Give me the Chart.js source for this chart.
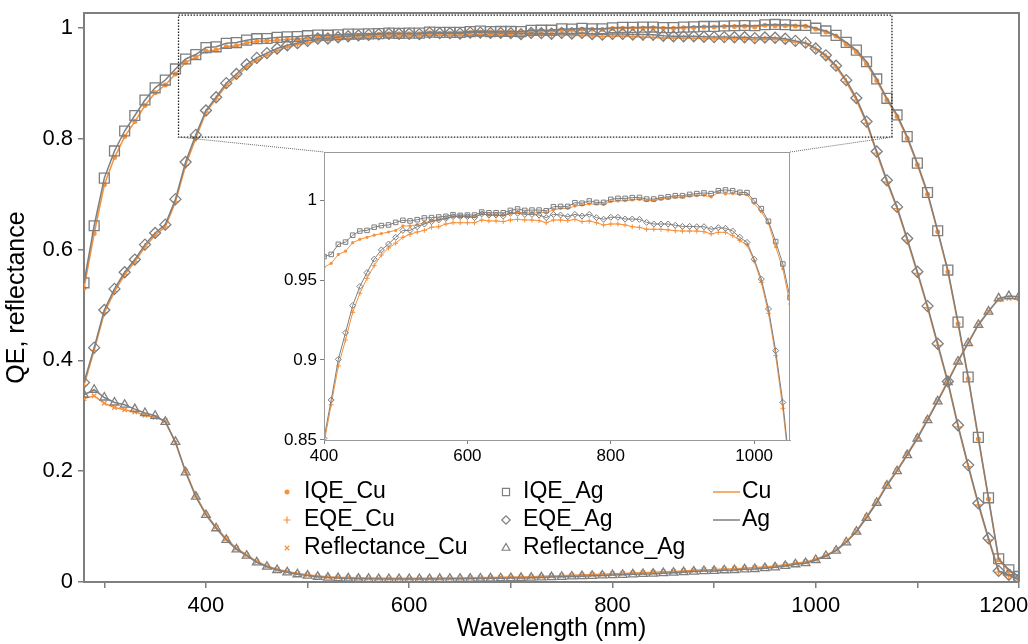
<!DOCTYPE html>
<html>
<head>
<meta charset="utf-8">
<title>QE and reflectance, Cu vs Ag</title>
<script src="https://cdn.jsdelivr.net/npm/chart.js@4.4.1/dist/chart.umd.min.js"></script>
<style>
  body { margin: 0; background: #fff; }
  #wrap { position: relative; width: 1028px; height: 644px; }
  #main { position: absolute; left: 0; top: 0; }
  #inset { position: absolute; left: 270px; top: 140px; }
</style>
</head>
<body>
<div id="wrap">
  <canvas id="main" width="1028" height="644"></canvas>
  <canvas id="inset" width="530" height="330"></canvas>
</div>
<script>
const ORANGE = '#f7913a';
const GREY = '#7f7f7f';

const wavelength = [
  280, 290, 300, 310, 320, 330, 340, 350, 360, 370,
  380, 390, 400, 410, 420, 430, 440, 450, 460, 470,
  480, 490, 500, 510, 520, 530, 540, 550, 560, 570,
  580, 590, 600, 610, 620, 630, 640, 650, 660, 670,
  680, 690, 700, 710, 720, 730, 740, 750, 760, 770,
  780, 790, 800, 810, 820, 830, 840, 850, 860, 870,
  880, 890, 900, 910, 920, 930, 940, 950, 960, 970,
  980, 990, 1000, 1010, 1020, 1030, 1040, 1050, 1060, 1070,
  1080, 1090, 1100, 1110, 1120, 1130, 1140, 1150, 1160, 1170,
  1180, 1190, 1200
];

const iqeCu = [
  0.530, 0.629, 0.717, 0.766, 0.804, 0.831, 0.860, 0.883, 0.897, 0.917,
  0.938, 0.947, 0.9580, 0.9604, 0.9660, 0.9680, 0.9733, 0.9754, 0.9767, 0.9780,
  0.9790, 0.9800, 0.9810, 0.9838, 0.9838, 0.9846, 0.9858, 0.9869, 0.9875, 0.9885,
  0.9896, 0.9896, 0.9896, 0.9896, 0.9913, 0.9906, 0.9906, 0.9906, 0.9917, 0.9923,
  0.9921, 0.9917, 0.9921, 0.9921, 0.9938, 0.9948, 0.9948, 0.9962, 0.9969, 0.9975,
  0.9975, 0.9973, 0.9990, 0.9994, 0.9996, 1.0000, 1.0004, 0.9996, 0.9996, 1.0006,
  1.0010, 1.0017, 1.0017, 1.0025, 1.0027, 1.0029, 1.0019, 1.0048, 1.0038, 1.0040,
  1.0035, 1.0033, 0.9979, 0.9927, 0.9854, 0.9708, 0.9570, 0.9350, 0.905, 0.870,
  0.840, 0.801, 0.753, 0.700, 0.632, 0.560, 0.466, 0.367, 0.258, 0.150,
  0.040, 0.020, 0.009
];
const eqeCu = [
  0.355, 0.418, 0.486, 0.524, 0.555, 0.578, 0.605, 0.626, 0.641, 0.686,
  0.752, 0.801, 0.8480, 0.8720, 0.8963, 0.9125, 0.9298, 0.9417, 0.9510, 0.9590,
  0.9656, 0.9700, 0.9730, 0.9767, 0.9785, 0.9800, 0.9810, 0.9830, 0.9833, 0.9850,
  0.9858, 0.9858, 0.9858, 0.9858, 0.9875, 0.9869, 0.9869, 0.9865, 0.9875, 0.9879,
  0.9875, 0.9875, 0.9871, 0.9858, 0.9875, 0.9875, 0.9871, 0.9879, 0.9865, 0.9869,
  0.9858, 0.9844, 0.9850, 0.9850, 0.9844, 0.9833, 0.9829, 0.9817, 0.9817, 0.9817,
  0.9813, 0.9808, 0.9806, 0.9806, 0.9806, 0.9802, 0.9788, 0.9798, 0.9798, 0.9777,
  0.9746, 0.9720, 0.9619, 0.9485, 0.9292, 0.9027, 0.8698, 0.828, 0.774, 0.722,
  0.674, 0.617, 0.557, 0.495, 0.427, 0.359, 0.280, 0.208, 0.139, 0.076,
  0.018, 0.011, 0.004
];
const reflCu = [
  0.331, 0.336, 0.3225, 0.315, 0.311, 0.307, 0.301, 0.297, 0.291, 0.251,
  0.200, 0.156, 0.123, 0.099, 0.078, 0.061, 0.049, 0.037, 0.029, 0.023,
  0.019, 0.0155, 0.013, 0.011, 0.0095, 0.0085, 0.008, 0.0075, 0.0072, 0.007,
  0.0068, 0.0068, 0.0068, 0.0068, 0.0069, 0.0070, 0.0072, 0.0074, 0.0076, 0.0079,
  0.0082, 0.0085, 0.0088, 0.0092, 0.0097, 0.0102, 0.0108, 0.0114, 0.0120, 0.0127,
  0.0134, 0.0140, 0.0147, 0.0154, 0.0161, 0.0168, 0.0175, 0.0183, 0.0191, 0.0200,
  0.0210, 0.0220, 0.0225, 0.0235, 0.0240, 0.0250, 0.0260, 0.0272, 0.0288, 0.0310,
  0.0340, 0.0360, 0.0410, 0.0480, 0.0580, 0.0730, 0.0920, 0.118, 0.145, 0.176,
  0.202, 0.231, 0.261, 0.294, 0.328, 0.363, 0.399, 0.432, 0.465, 0.489,
  0.510, 0.512, 0.511
];
const iqeAg = [
  0.540, 0.643, 0.729, 0.778, 0.814, 0.842, 0.870, 0.892, 0.906, 0.926,
  0.944, 0.952, 0.9646, 0.9660, 0.9723, 0.9737, 0.9780, 0.9806, 0.9810, 0.9830,
  0.9840, 0.9844, 0.9860, 0.9873, 0.9869, 0.9877, 0.9888, 0.9890, 0.9894, 0.9898,
  0.9908, 0.9904, 0.9906, 0.9906, 0.9925, 0.9920, 0.9920, 0.9920, 0.9935, 0.9944,
  0.9935, 0.9937, 0.9937, 0.9933, 0.9958, 0.9960, 0.9960, 0.9983, 0.9980, 0.9994,
  0.9985, 0.9985, 1.0004, 1.0010, 1.0010, 1.0015, 1.0016, 1.0006, 1.0006, 1.0015,
  1.0020, 1.0027, 1.0027, 1.0035, 1.0040, 1.0044, 1.0040, 1.0058, 1.0063, 1.0058,
  1.0048, 1.0046, 0.9996, 0.9946, 0.9867, 0.9740, 0.9600, 0.9390, 0.908, 0.873,
  0.843, 0.804, 0.756, 0.703, 0.634, 0.563, 0.469, 0.370, 0.261, 0.152,
  0.042, 0.022, 0.010
];
const eqeAg = [
  0.360, 0.423, 0.491, 0.529, 0.559, 0.582, 0.609, 0.630, 0.645, 0.691,
  0.758, 0.807, 0.8510, 0.8750, 0.9004, 0.9170, 0.9340, 0.9460, 0.9546, 0.9630,
  0.9688, 0.9725, 0.9767, 0.9810, 0.9810, 0.9833, 0.9850, 0.9865, 0.9875, 0.9885,
  0.9896, 0.9896, 0.9896, 0.9890, 0.9913, 0.9906, 0.9906, 0.9900, 0.9917, 0.9917,
  0.9910, 0.9910, 0.9906, 0.9890, 0.9910, 0.9906, 0.9896, 0.9910, 0.9900, 0.9910,
  0.9890, 0.9880, 0.9892, 0.9892, 0.9881, 0.9881, 0.9879, 0.9860, 0.9850, 0.9850,
  0.9850, 0.9842, 0.9835, 0.9835, 0.9833, 0.9833, 0.9817, 0.9827, 0.9823, 0.9806,
  0.9767, 0.9735, 0.9630, 0.9506, 0.9319, 0.9058, 0.8735, 0.831, 0.777, 0.725,
  0.677, 0.620, 0.560, 0.498, 0.430, 0.362, 0.283, 0.211, 0.142, 0.079,
  0.020, 0.013, 0.005
];
const reflAg = [
  0.338, 0.347, 0.333, 0.324, 0.320, 0.312, 0.305, 0.300, 0.289, 0.253,
  0.198, 0.154, 0.121, 0.097, 0.076, 0.059, 0.0475, 0.0355, 0.0276, 0.0217,
  0.0175, 0.0140, 0.0115, 0.0095, 0.0080, 0.0070, 0.0065, 0.0060, 0.0058, 0.0055,
  0.0054, 0.0054, 0.0054, 0.0054, 0.0055, 0.0056, 0.0058, 0.0060, 0.0062, 0.0064,
  0.0066, 0.0068, 0.0070, 0.0074, 0.0078, 0.0083, 0.0088, 0.0094, 0.0100, 0.0106,
  0.0112, 0.0118, 0.0125, 0.0130, 0.0138, 0.0145, 0.0150, 0.0160, 0.0168, 0.0178,
  0.0188, 0.0198, 0.0200, 0.0212, 0.0217, 0.0229, 0.0235, 0.0250, 0.0265, 0.0290,
  0.0320, 0.0340, 0.0397, 0.0470, 0.0565, 0.0717, 0.0908, 0.116, 0.143, 0.174,
  0.200, 0.229, 0.259, 0.292, 0.326, 0.361, 0.398, 0.431, 0.464, 0.488,
  0.512, 0.516, 0.515
];

// zoomed window shown in the inset (data coords)
const zoomBox = { x0: 373, x1: 1075, y0: 0.803, y1: 1.023 };

const series = [
  { label: 'IQE_Cu', values: iqeCu, metal: 'Cu', style: 'circle' },
  { label: 'EQE_Cu', values: eqeCu, metal: 'Cu', style: 'cross' },
  { label: 'Reflectance_Cu', values: reflCu, metal: 'Cu', style: 'crossRot' },
  { label: 'IQE_Ag', values: iqeAg, metal: 'Ag', style: 'rect' },
  { label: 'EQE_Ag', values: eqeAg, metal: 'Ag', style: 'rectRot' },
  { label: 'Reflectance_Ag', values: reflAg, metal: 'Ag', style: 'triangle' },
];

const markers = {
  circle:   { main: 2.5, inset: 1.6, legend: 2.5 },
  cross:    { main: 3.5, inset: 2.5, legend: 3.5 },
  crossRot: { main: 3.2, inset: 2.2, legend: 3.2 },
  rect:     { main: 7,   inset: 3.2, legend: 5 },
  rectRot:  { main: 5.5, inset: 3,   legend: 4.2 },
  triangle: { main: 5,   inset: 3,   legend: 4.5 },
};

Chart.defaults.font.family = '"Liberation Sans", Arial, sans-serif';
Chart.defaults.color = '#000';

const metalColor = (m) => (m === 'Cu' ? ORANGE : GREY);

function buildDatasets(size, lineWidth) {
  return series.map((s) => {
    const col = metalColor(s.metal);
    return {
      label: s.label,
      data: wavelength.map((x, i) => ({ x: x, y: s.values[i] })),
      borderColor: col,
      borderWidth: lineWidth,
      pointStyle: s.style,
      pointRadius: markers[s.style][size],
      pointBorderColor: col,
      pointBackgroundColor: s.style === 'circle' ? col : 'rgba(0,0,0,0)',
      pointBorderWidth: s.style === 'circle' ? 0 : (size === 'main' ? 1.3 : 1),
      order: s.metal === 'Ag' ? 0 : 1,
    };
  });
}

const fmt = (v) => String(parseFloat(v.toFixed(2)));

// white inset background + thin frame
const insetFrame = {
  id: 'insetFrame',
  beforeDraw(chart) {
    const a = chart.chartArea, ctx = chart.ctx;
    ctx.save();
    ctx.fillStyle = '#fff';
    ctx.fillRect(a.left, a.top, a.right - a.left, a.bottom - a.top);
    ctx.restore();
  },
  afterDraw(chart) {
    const a = chart.chartArea, ctx = chart.ctx;
    ctx.save();
    ctx.strokeStyle = '#9a9a9a';
    ctx.lineWidth = 1;
    ctx.strokeRect(a.left + 0.5, a.top + 0.5, a.right - a.left - 1, a.bottom - a.top);
    ctx.restore();
  }
};

const insetCanvas = document.getElementById('inset');
const insetChart = new Chart(insetCanvas, {
  type: 'line',
  data: { datasets: buildDatasets('inset', 1) },
  options: {
    responsive: false,
    animation: false,
    layout: { padding: { top: 12, right: 10, left: 0, bottom: 0 } },
    plugins: { legend: { display: false }, tooltip: { enabled: false } },
    scales: {
      x: {
        type: 'linear', min: 400, max: 1050,
        ticks: { stepSize: 200, includeBounds: false, autoSkip: false, maxRotation: 0, padding: 2, font: { size: 17 }, callback: (v) => String(v) },
        grid: { drawOnChartArea: false, tickLength: 4, color: GREY },
        border: { color: '#9a9a9a', width: 1 },
        afterFit: (s) => { s.height = 30; s.paddingLeft = 0; s.paddingRight = 0; }
      },
      y: {
        type: 'linear', min: 0.85, max: 1.03,
        ticks: { stepSize: 0.05, includeBounds: false, padding: 3, font: { size: 17 }, callback: fmt },
        grid: { drawOnChartArea: false, tickLength: 4, color: GREY },
        border: { color: '#9a9a9a', width: 1 },
        afterFit: (s) => { s.width = 54; s.paddingTop = 0; s.paddingBottom = 0; }
      }
    }
  },
  plugins: [insetFrame]
});

// top/right spines and the dotted zoom window with its leader lines
const mainFrame = {
  id: 'mainFrame',
  afterDatasetsDraw(chart) {
    const a = chart.chartArea, ctx = chart.ctx;
    const xs = chart.scales.x, ys = chart.scales.y;
    ctx.save();
    ctx.strokeStyle = GREY;
    ctx.lineWidth = 2;
    ctx.beginPath();
    ctx.moveTo(a.left, a.top);
    ctx.lineTo(a.right, a.top);
    ctx.lineTo(a.right, a.bottom);
    ctx.stroke();

    const bx0 = xs.getPixelForValue(zoomBox.x0), bx1 = xs.getPixelForValue(zoomBox.x1);
    const by0 = ys.getPixelForValue(zoomBox.y0), by1 = ys.getPixelForValue(zoomBox.y1);
    ctx.strokeStyle = '#222';
    ctx.lineWidth = 1.3;
    ctx.setLineDash([1.5, 1.5]);
    ctx.strokeRect(bx0, by1, bx1 - bx0, by0 - by1);

    const ia = insetChart.chartArea;
    const ox = insetCanvas.offsetLeft, oy = insetCanvas.offsetTop;
    ctx.strokeStyle = '#666';
    ctx.lineWidth = 1;
    ctx.setLineDash([1, 1]);
    ctx.beginPath();
    ctx.moveTo(bx0, by0);
    ctx.lineTo(ox + ia.left, oy + ia.top);
    ctx.moveTo(bx1, by0);
    ctx.lineTo(ox + ia.right, oy + ia.top);
    ctx.stroke();
    ctx.restore();
  }
};

const legendLayout = { markerX: [287, 506], textX: [304, 523], rowY: [492, 520, 548], lineX: [713, 740], lineTextX: 742 };

const inPlotLegend = {
  id: 'inPlotLegend',
  afterDraw(chart) {
    const ctx = chart.ctx, L = legendLayout;
    ctx.save();
    ctx.font = '23px "Liberation Sans", Arial, sans-serif';
    ctx.textBaseline = 'middle';
    series.forEach((s, i) => {
      const col = Math.floor(i / 3), row = i % 3;
      const x = L.markerX[col], y = L.rowY[row];
      const c = metalColor(s.metal);
      ctx.strokeStyle = c;
      ctx.fillStyle = s.style === 'circle' ? c : 'rgba(0,0,0,0)';
      ctx.lineWidth = 1.2;
      Chart.helpers.drawPoint(ctx, {
        pointStyle: s.style, radius: markers[s.style].legend, rotation: 0,
        borderWidth: s.style === 'circle' ? 0 : 1.2
      }, x, y);
      ctx.fillStyle = '#000';
      ctx.fillText(s.label, L.textX[col], y);
    });
    ['Cu', 'Ag'].forEach((m, row) => {
      const y = L.rowY[row];
      ctx.strokeStyle = metalColor(m);
      ctx.lineWidth = 1.5;
      ctx.beginPath();
      ctx.moveTo(L.lineX[0], y);
      ctx.lineTo(L.lineX[1], y);
      ctx.stroke();
      ctx.fillStyle = '#000';
      ctx.fillText(m, L.lineTextX, y);
    });
    ctx.restore();
  }
};

const mainChart = new Chart(document.getElementById('main'), {
  type: 'line',
  data: { datasets: buildDatasets('main', 1.5) },
  options: {
    responsive: false,
    animation: false,
    layout: { padding: { top: 13, right: 9, left: 0, bottom: 0 } },
    plugins: { legend: { display: false }, tooltip: { enabled: false } },
    scales: {
      x: {
        type: 'linear', min: 280, max: 1200,
        ticks: {
          stepSize: 100, includeBounds: false, autoSkip: false, maxRotation: 0, padding: 5,
          font: { size: 22 },
          // last label sits against the page edge in the original, so pad it leftwards
          callback: (v) => (v % 200 !== 0 ? '' : (v === 1200 ? '1200     ' : String(v)))
        },
        grid: { drawOnChartArea: false, tickLength: 6, color: GREY, lineWidth: 1.5 },
        border: { color: GREY, width: 2 },
        title: { display: true, text: 'Wavelength (nm)', font: { size: 25 }, padding: { top: 0, bottom: 0 } },
        afterFit: (s) => { s.height = 62; s.paddingLeft = 0; s.paddingRight = 0; }
      },
      y: {
        type: 'linear', min: 0, max: 1.027,
        ticks: { stepSize: 0.2, includeBounds: false, padding: 5, font: { size: 22 }, callback: fmt },
        grid: { drawOnChartArea: false, tickLength: 6, color: GREY, lineWidth: 1.5 },
        border: { color: GREY, width: 2 },
        title: { display: true, text: 'QE, reflectance', font: { size: 25 }, padding: { top: 2, bottom: 0 } },
        afterFit: (s) => { s.width = 84; s.paddingTop = 0; s.paddingBottom = 0; }
      }
    }
  },
  plugins: [mainFrame, inPlotLegend]
});
</script>
</body>
</html>
